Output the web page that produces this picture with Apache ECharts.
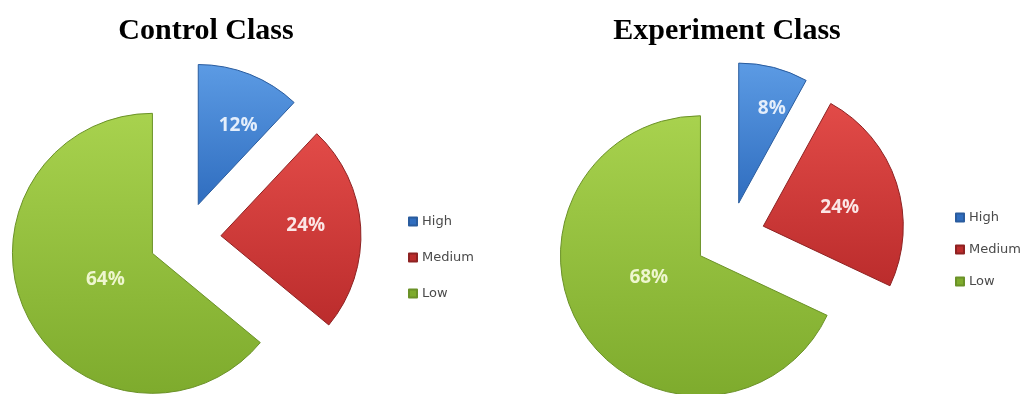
<!DOCTYPE html>
<html>
<head>
<meta charset="utf-8">
<script src="https://cdn.jsdelivr.net/npm/echarts@6/dist/echarts.min.js"></script>
<style>
html,body{margin:0;padding:0;background:#fff;}
#chart{width:1021px;height:394px;}
</style>
</head>
<body>
<div id="chart"></div>
<script>
// ---- data ----
var categories = ['High', 'Medium', 'Low'];
var controlValues = [12, 24, 64];
var experimentValues = [8, 24, 68];
var titles = ['Control Class', 'Experiment Class'];

// ---- styles ----
var sliceColors = [
  {top: '#5c9be4', bottom: '#2f6dbf', border: '#2a5c9e', label: '#e4eefb'},
  {top: '#e24b48', bottom: '#bb2c2c', border: '#8e2222', label: '#fbe6e6'},
  {top: '#a8d24e', bottom: '#7eab2d', border: '#6b9228', label: '#eef6cf'}
];
var labelShift = [
  [[13, -11], [12, -6], [19, -5]],
  [[15, -24], [7, 4], [10, -17]]
];

function grad(c) {
  return new echarts.graphic.LinearGradient(0, 0, 0, 1, [
    {offset: 0, color: c.top}, {offset: 1, color: c.bottom}
  ]);
}
function buildData(values) {
  return categories.map(function (name, i) {
    return {
      name: name,
      value: values[i],
      selected: true,
      itemStyle: {color: grad(sliceColors[i]), borderColor: sliceColors[i].border, borderWidth: 1},
      label: {color: sliceColors[i].label}
    };
  });
}
function pieSeries(values, center, offset, idx) {
  return {
    type: 'pie',
    center: center,
    radius: [0, 140],
    startAngle: 90,
    clockwise: true,
    selectedMode: 'multiple',
    selectedOffset: offset,
    avoidLabelOverlap: false,
    animation: false,
    emphasis: {scale: false, disabled: true},
    label: {
      show: true,
      position: 'inside',
      formatter: '{c}%',
      fontFamily: 'Open Sans',
      fontWeight: 'bold',
      fontSize: 19
    },
    labelLine: {show: false},
    labelLayout: function (p) {
      var s = labelShift[idx][p.dataIndex];
      return {dx: s[0], dy: s[1]};
    },
    data: buildData(values)
  };
}
function legend(left, top, gap) {
  return {
    orient: 'vertical',
    left: left,
    top: top,
    itemWidth: 8,
    itemHeight: 8,
    itemGap: gap,
    icon: 'rect',
    selectedMode: false,
    data: categories.map(function (n, i) {
      return {name: n, itemStyle: {color: sliceColors[i].bottom}};
    }),
    textStyle: {fontFamily: 'DejaVu Sans', fontSize: 13, color: '#4a4a4a', padding: [0, 0, 0, 0]}
  };
}

var chart = echarts.init(document.getElementById('chart'), null, {renderer: 'canvas'});
chart.setOption({
  backgroundColor: '#ffffff',
  animation: false,
  title: [
    {text: titles[0], left: 201, top: 11, textAlign: 'center',
     textStyle: {fontFamily: 'Liberation Serif', fontWeight: 'bold', fontSize: 30, color: '#000'}},
    {text: titles[1], left: 722, top: 11, textAlign: 'center',
     textStyle: {fontFamily: 'Liberation Serif', fontWeight: 'bold', fontSize: 30, color: '#000'}}
  ],
  legend: [legend(403, 210, 23), legend(950, 206, 19)],
  series: [
    pieSeries(controlValues, [185, 238], 36, 0),
    pieSeries(experimentValues, [730, 237], 35, 1)
  ]
});
</script>
</body>
</html>
